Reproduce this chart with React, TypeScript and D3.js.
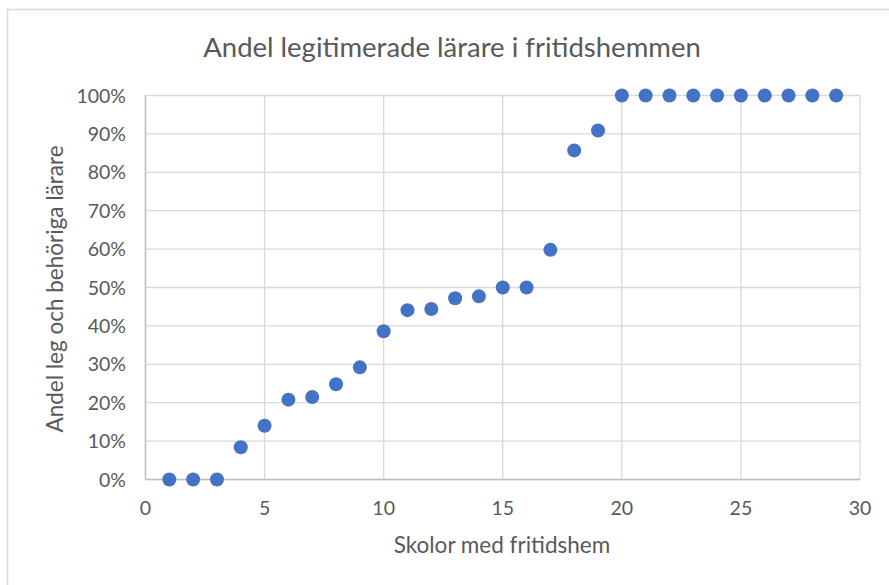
import { useEffect, useRef } from 'react';
import * as d3 from 'd3';

const schools = [1, 2, 3, 4, 5, 6, 7, 8, 9, 10, 11, 12, 13, 14, 15, 16, 17, 18, 19, 20, 21, 22, 23, 24, 25, 26, 27, 28, 29];
const shares = [0, 0, 0, 0.084, 0.14, 0.208, 0.215, 0.248, 0.292, 0.386, 0.441, 0.444, 0.472, 0.477, 0.5, 0.5, 0.598, 0.857, 0.909, 1, 1, 1, 1, 1, 1, 1, 1, 1, 1];
const xTicks = [0, 5, 10, 15, 20, 25, 30];
const yTicks = [0, 0.1, 0.2, 0.3, 0.4, 0.5, 0.6, 0.7, 0.8, 0.9, 1];

const title = 'Andel legitimerade lärare i fritidshemmen';
const xTitle = 'Skolor med fritidshem';
const yTitle = 'Andel leg och behöriga lärare';

export default function App() {
  const svgRef = useRef<SVGSVGElement>(null);

  useEffect(() => {
    if (!svgRef.current) return;
    const width = 889;
    const height = 585;
    const svg = d3.select(svgRef.current);
    svg.selectAll('*').remove();

    const font = 'Lato, "Open Sans", sans-serif';
    const textColor = '#595959';

    // chart border
    svg.append('rect')
      .attr('x', 7.5).attr('y', 9.5)
      .attr('width', width).attr('height', height)
      .attr('fill', '#fff')
      .attr('stroke', '#d9d9d9')
      .attr('stroke-width', 1.5);

    const x = d3.scaleLinear().domain([0, 30]).range([145.5, 860]);
    const y = d3.scaleLinear().domain([0, 1]).range([479.5, 95.5]);

    // gridlines
    svg.append('g').selectAll('line.h')
      .data(yTicks)
      .enter()
      .append('line')
      .attr('x1', x(0)).attr('x2', x(30))
      .attr('y1', d => y(d)).attr('y2', d => y(d))
      .attr('stroke', '#d9d9d9')
      .attr('stroke-width', 1.3);

    svg.append('g').selectAll('line.v')
      .data(xTicks)
      .enter()
      .append('line')
      .attr('x1', d => x(d)).attr('x2', d => x(d))
      .attr('y1', y(0)).attr('y2', y(1))
      .attr('stroke', '#d9d9d9')
      .attr('stroke-width', 1.3);

    // axis lines
    svg.append('line')
      .attr('x1', x(0)).attr('x2', x(30))
      .attr('y1', y(0)).attr('y2', y(0))
      .attr('stroke', '#bfbfbf').attr('stroke-width', 1.5);
    svg.append('line')
      .attr('x1', x(0)).attr('x2', x(0))
      .attr('y1', y(0)).attr('y2', y(1))
      .attr('stroke', '#bfbfbf').attr('stroke-width', 1.5);

    // tick labels
    svg.append('g').selectAll('text')
      .data(yTicks)
      .enter()
      .append('text')
      .attr('x', 126)
      .attr('y', d => y(d) + 7)
      .attr('text-anchor', 'end')
      .style('font-family', font)
      .style('font-size', '19.5px')
      .style('fill', textColor)
      .text(d => d3.format('.0%')(d));

    svg.append('g').selectAll('text')
      .data(xTicks)
      .enter()
      .append('text')
      .attr('x', d => x(d))
      .attr('y', 515)
      .attr('text-anchor', 'middle')
      .style('font-family', font)
      .style('font-size', '19.5px')
      .style('fill', textColor)
      .text(d => String(d));

    // titles
    svg.append('text')
      .attr('x', 452).attr('y', 57)
      .attr('text-anchor', 'middle')
      .style('font-family', font)
      .style('font-size', '27.5px')
      .style('fill', textColor)
      .text(title);

    svg.append('text')
      .attr('x', 502).attr('y', 553)
      .attr('text-anchor', 'middle')
      .style('font-family', font)
      .style('font-size', '22.5px')
      .style('fill', textColor)
      .text(xTitle);

    svg.append('text')
      .attr('transform', `translate(63,${289}) rotate(-90)`)
      .attr('text-anchor', 'middle')
      .style('font-family', font)
      .style('font-size', '22.5px')
      .style('fill', textColor)
      .text(yTitle);

    // points
    svg.append('g').selectAll('circle')
      .data(schools)
      .enter()
      .append('circle')
      .attr('cx', d => x(d))
      .attr('cy', (_d, i) => y(shares[i]))
      .attr('r', 7)
      .attr('fill', '#4472c4');
  }, []);

  return (
    <svg
      ref={svgRef}
      width={889}
      height={585}
      style={{ position: 'absolute', left: 0, top: 0, background: '#fff' }}
    />
  );
}
